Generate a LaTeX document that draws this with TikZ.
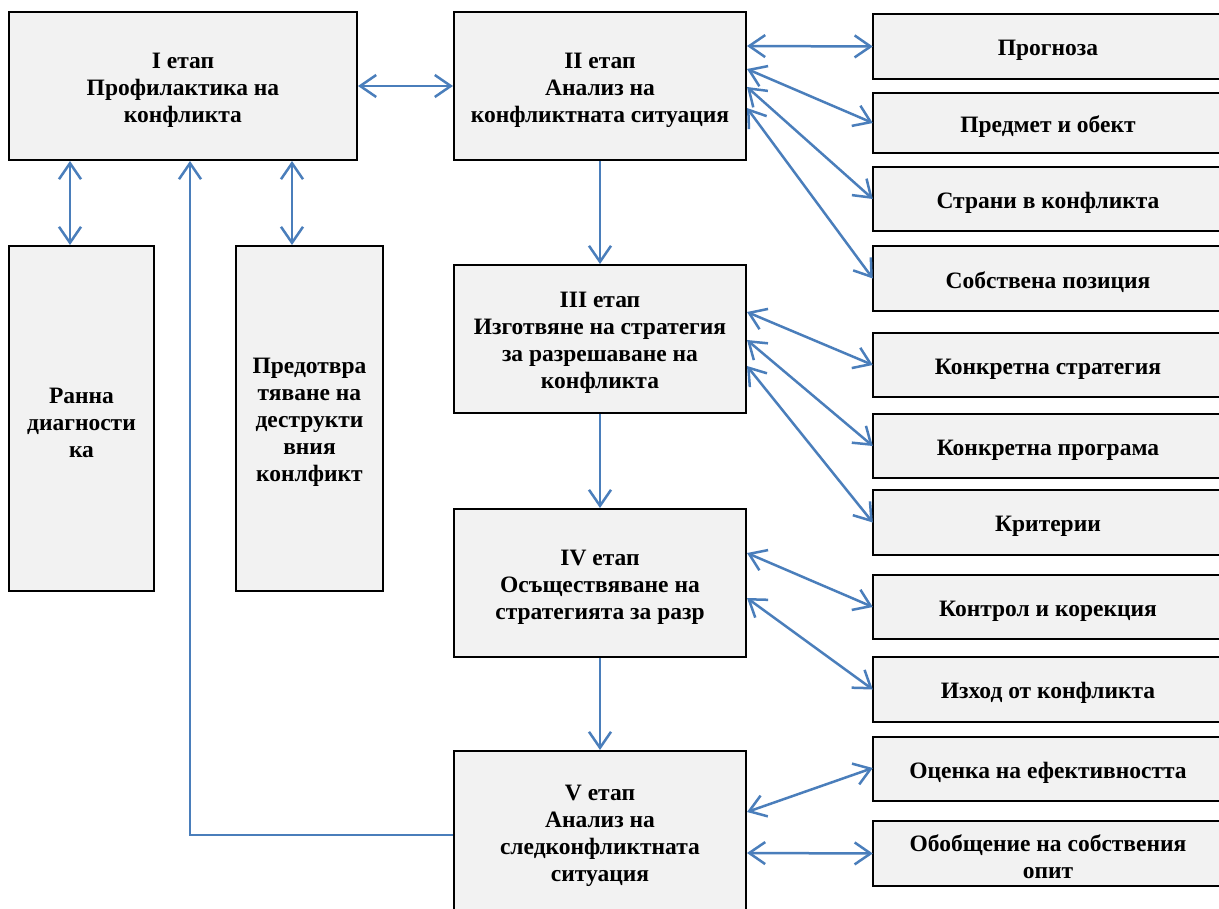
\documentclass[tikz,border=0pt]{standalone}
\usepackage{fontspec}
\setmainfont{Liberation Serif}
\usetikzlibrary{arrows.meta,calc}
\definecolor{arrowblue}{HTML}{4A7EBB}
\definecolor{boxfill}{HTML}{F2F2F2}
\newcommand{\tstrut}{\rule{0pt}{23.5pt}}
\newcommand{\rtext}[1]{\parbox{350pt}{\centering\tstrut #1}\hspace*{20pt}}
\begin{document}
\begin{tikzpicture}[x=1pt,y=-1pt,
  box/.style={draw=black,line width=2pt,fill=boxfill,rectangle,align=center,inner sep=0pt,
    font=\fontsize{23.5}{27}\selectfont\bfseries},
  side/.style={fill=boxfill,rectangle,inner sep=0pt,
    font=\fontsize{23.5}{27}\selectfont\bfseries,minimum width=370pt,minimum height=64pt},
  sideborder/.style={draw=black,line width=2pt},
  conn/.style={draw=arrowblue,line width=2.5pt},
  both/.style={conn,{Straight Barb[length=16pt,width=22pt,line width=2.5pt]}-{Straight Barb[length=16pt,width=22pt,line width=2.5pt]}},
  one/.style={conn,-{Straight Barb[length=16pt,width=22pt,line width=2.5pt]}}]
\useasboundingbox (0,0) rectangle (1219,909);
\clip (0,0) rectangle (1219,909);
\fill[white] (0,0) rectangle (1219,909);

% main boxes
\node[box,minimum width=348pt,minimum height=148pt] (I) at (183,86) {\tstrut I етап\\Профилактика на\\конфликта};
\node[box,minimum width=292pt,minimum height=148pt] (II) at (600,86) {\tstrut II етап\\Анализ на\\конфликтната ситуация};
\node[box,minimum width=292pt,minimum height=148pt] (III) at (600,339) {\tstrut III етап\\Изготвяне на стратегия\\за разрешаване на\\конфликта};
\node[box,minimum width=292pt,minimum height=148pt] (IV) at (600,583) {\tstrut IV етап\\Осъществяване на\\стратегията за разр};
\node[box,minimum width=292pt,minimum height=162pt] (V) at (600,832) {\tstrut V етап\\Анализ на\\следконфликтната\\ситуация};

% lower-left boxes
\node[box,minimum width=145pt,minimum height=345pt] (R1) at (81.5,418.5) {\tstrut Ранна\\диагности\\ка};
\node[box,minimum width=147pt,minimum height=345pt] (R2) at (309.5,418.5) {\tstrut Предотвра\\тяване на\\деструкти\\вния\\конлфикт};

% right boxes (left edge at 873, running off the right edge)
\node[side] (P1) at (1058,46.5) {\rtext{Прогноза}};
\node[side,minimum height=60pt] (P2) at (1058,123) {\rtext{Предмет и обект}};
\node[side] (P3) at (1058,199) {\rtext{Страни в конфликта}};
\node[side] (P4) at (1058,278.5) {\rtext{Собствена позиция}};
\node[side] (S1) at (1058,365) {\rtext{Конкретна стратегия}};
\node[side] (S2) at (1058,446) {\rtext{Конкретна програма}};
\node[side] (S3) at (1058,522.5) {\rtext{Критерии}};
\node[side] (K1) at (1058,607) {\rtext{Контрол и корекция}};
\node[side] (K2) at (1058,689.5) {\rtext{Изход от конфликта}};
\node[side] (E1) at (1058,769) {\rtext{Оценка на ефективността}};
\node[side] (E2) at (1058,853.5) {\rtext{Обобщение на собствения\\опит}};
\foreach \n in {P1,P2,P3,P4,S1,S2,S3,K1,K2,E1,E2}
  \draw[sideborder] (\n.north east) -- (\n.north west) -- (\n.south west) -- (\n.south east);

% connectors
\draw[both] (I.east) -- (II.west);
\draw[both] ([xshift=-113pt]I.south) -- ([xshift=-11.5pt]R1.north);
\draw[both] ([xshift=109pt]I.south) -- ([xshift=-17.5pt]R2.north);
\draw[one] ([yshift=-3pt]V.west) -| ([xshift=7pt]I.south);

\draw[one] (II.south) -- (III.north);
\draw[one] (III.south) -- (IV.north);
\draw[one] (IV.south) -- (V.north);

\draw[both] ([yshift=40pt]II.east) -- (P1.west);
\draw[both] ([yshift=17pt]II.east) -- (P2.west);
\draw[both] ([yshift=-1pt]II.east) -- (P3.west);
\draw[both] ([yshift=-22pt]II.east) -- (P4.west);

\draw[both] ([yshift=27pt]III.east) -- (S1.west);
\draw[both] ([yshift=-1pt]III.east) -- (S2.west);
\draw[both] ([yshift=-27pt]III.east) -- (S3.west);

\draw[both] ([yshift=30pt]IV.east) -- (K1.west);
\draw[both] ([yshift=-15pt]IV.east) -- (K2.west);

\draw[both] ([yshift=20pt]V.east) -- ([yshift=1pt]E1.west);
\draw[both] ([yshift=-21pt]V.east) -- (E2.west);
\end{tikzpicture}
\end{document}
